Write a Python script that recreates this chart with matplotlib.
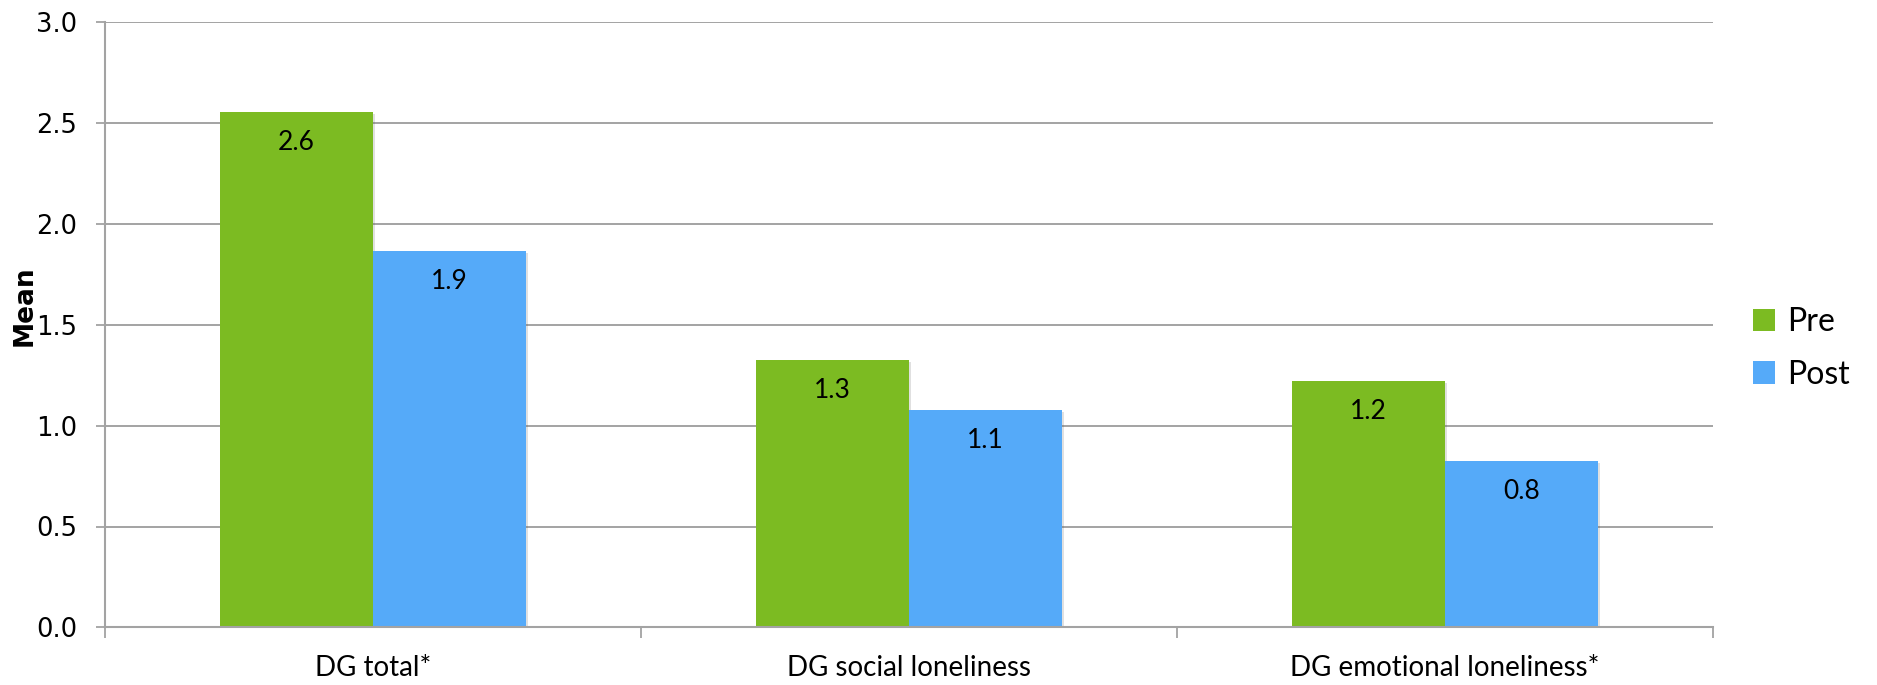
import matplotlib
matplotlib.use("Agg")
import matplotlib.pyplot as plt
import matplotlib.patheffects as pe
import numpy as np

categories = ["DG total*", "DG social loneliness", "DG emotional loneliness*"]
pre_values = [2.555, 1.326, 1.224]
post_values = [1.868, 1.079, 0.826]
series_names = ["Pre", "Post"]
y_ticks = [0.0, 0.5, 1.0, 1.5, 2.0, 2.5, 3.0]

GREEN = "#7CBB22"
BLUE = "#55AAF9"
GRID = "#A3A3A3"

W, H = 1877, 685
fig = plt.figure(figsize=(W / 100, H / 100), dpi=100)
ax = fig.add_axes([105 / W, 1 - 627.3 / H, (1713 - 105) / W, (627.3 - 22.5) / H])

x = np.arange(len(categories))
bw = 0.2855
shadow = [pe.SimplePatchShadow(offset=(1.5, -1.5), alpha=0.18, shadow_rgbFace="#555555"), pe.Normal()]
b1 = ax.bar(x - bw / 2, pre_values, bw, color=GREEN, label=series_names[0], zorder=3, path_effects=shadow)
b2 = ax.bar(x + bw / 2, post_values, bw, color=BLUE, label=series_names[1], zorder=3, path_effects=shadow)

for bars, vals in ((b1, pre_values), (b2, post_values)):
    for rect, v in zip(bars, vals):
        ax.annotate(f"{v:.1f}", xy=(rect.get_x() + rect.get_width() / 2, v),
                    xytext=(0, -22), textcoords="offset points",
                    ha="center", va="center", fontsize=19, family="Lato",
                    color="black", zorder=4)

ax.set_xlim(-0.5, len(categories) - 0.5)
ax.set_ylim(0, 3.0)
ax.set_yticks(y_ticks)
ax.set_yticklabels([f"{t:.1f}" for t in y_ticks], fontsize=18.5, family="DejaVu Sans")
ax.set_xticks(x)
ax.set_xticklabels(categories, fontsize=20, family="Lato")
ax.set_xticks(np.arange(len(categories) + 1) - 0.5, minor=True)

ax.tick_params(axis="x", which="major", length=0, pad=20)
ax.tick_params(axis="x", which="minor", length=8, width=1.3, color=GRID, direction="out")
ax.tick_params(axis="y", which="major", length=6.5, width=1.3, color=GRID, direction="out", pad=13.5)

ax.yaxis.grid(True, color=GRID, linewidth=1.4, zorder=0)
ax.set_axisbelow(True)
for s in ("top", "right"):
    ax.spines[s].set_visible(False)
for s in ("left", "bottom"):
    ax.spines[s].set_color(GRID)
    ax.spines[s].set_linewidth(1.5)
ax.spines["bottom"].set_zorder(5)

fig.text(25 / W, 1 - 306 / H, "Mean", rotation=90, ha="center", va="center",
         fontsize=19, fontweight="bold", family="DejaVu Sans")

leg = ax.legend(handles=[b1, b2], loc="center left", bbox_to_anchor=(1753 / W, 1 - 348.5 / H),
                bbox_transform=fig.transFigure, frameon=False, prop={"family": "Lato", "size": 23},
                handlelength=0.69, handleheight=0.69, handletextpad=0.38, labelspacing=0.7,
                borderpad=0, borderaxespad=0)
for h in leg.legend_handles:
    h.set_path_effects([])

fig.savefig("out.png", dpi=100)
